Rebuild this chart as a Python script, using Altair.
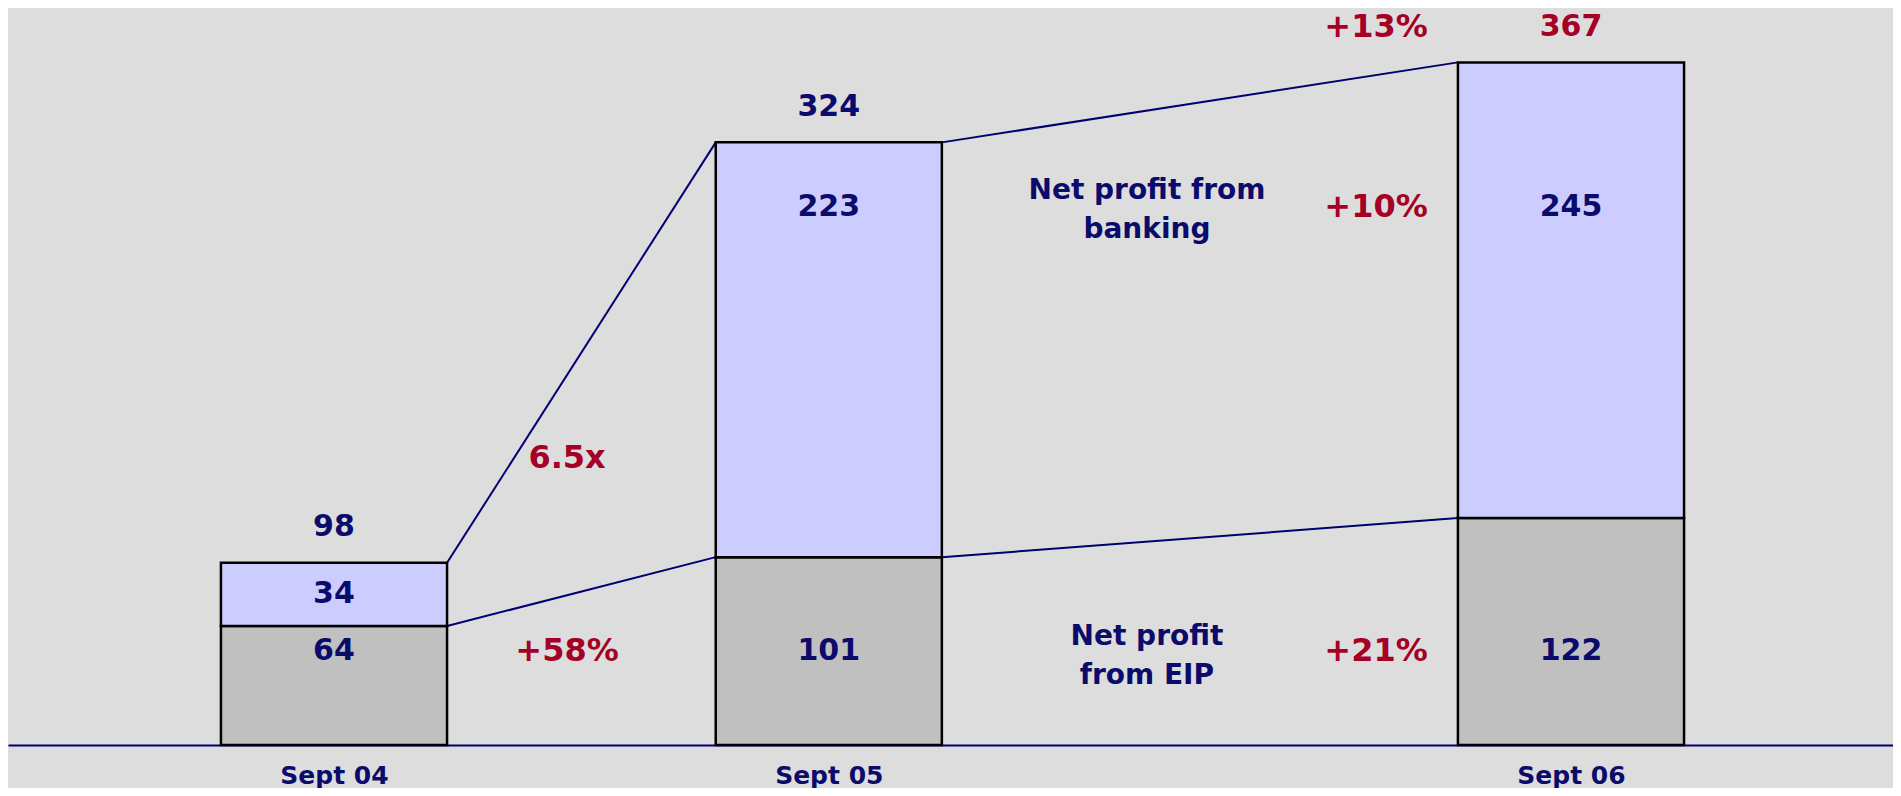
import altair as alt
import pandas as pd

# ---- data ----
periods = ["Sept 04", "Sept 05", "Sept 06"]
slots = [0, 2, 5]                 # horizontal slot of each period
eip = [64, 101, 122]              # Net profit from EIP
banking = [34, 223, 245]          # Net profit from banking
totals = [98, 324, 367]

growth_labels = ["6.5x", "+58%", "+13%", "+10%", "+21%"]
series_labels = ["Net profit from\nbanking", "Net profit\nfrom EIP"]

# ---- layout / style constants ----
NAVY = "#0b0b6b"
LINE = "#000070"
RED = "#a50026"
FONT = "DejaVu Sans"
HALF = 0.457                      # half bar width in slot units
ROW_TOTAL = 386.0
ROW_BANK = 289.2
ROW_EIP = 50.5
COL_GAP1 = 0.942
COL_NAME = 3.286
COL_GAP2 = 4.212

X = alt.Scale(domain=[-1.3177, 6.3016], nice=False, zero=False)
Y = alt.Scale(domain=[0, 396.24], nice=False, zero=False)

label_expr = ""
for s, p in zip(slots, periods):
    label_expr += f"datum.value == {s} ? '{p}' : "
label_expr += "''"

XAXIS = alt.Axis(values=slots, labelExpr=label_expr, grid=False, ticks=False,
                 domainColor=LINE, domainWidth=2, labelFont=FONT,
                 labelFontSize=25, labelFontWeight="bold", labelColor=NAVY,
                 labelPadding=18, title=None)


def xq(field):
    return alt.X(field, type="quantitative", scale=X, axis=XAXIS)


def yq(field):
    return alt.Y(field, type="quantitative", scale=Y, axis=None)


# bars
rows = []
for p, s, e, b in zip(periods, slots, eip, banking):
    rows.append(dict(period=p, slot=s, seg="EIP", start=0, end=e))
    rows.append(dict(period=p, slot=s, seg="Banking", start=e, end=e + b))
bars_df = pd.DataFrame(rows)
bars_df["x0"] = bars_df["slot"] - HALF
bars_df["x1"] = bars_df["slot"] + HALF

bars = alt.Chart(bars_df).mark_bar(stroke="black", strokeWidth=2.5).encode(
    x=xq("x0"),
    x2="x1:Q",
    y=yq("start"),
    y2="end:Q",
    color=alt.Color("seg:N", scale=alt.Scale(domain=["EIP", "Banking"],
                                             range=["#c0c0c0", "#ccccff"]), legend=None),
)

# connecting lines
lrows = []
for i in range(len(periods) - 1):
    for level in (eip, totals):
        lrows.append(dict(xa=slots[i] + HALF, ya=level[i], xb=slots[i + 1] - HALF, yb=level[i + 1]))
lines = alt.Chart(pd.DataFrame(lrows)).mark_rule(color=LINE, strokeWidth=2).encode(
    x=xq("xa"), x2="xb:Q", y=yq("ya"), y2="yb:Q"
)

# totals
tot_df = pd.DataFrame(dict(period=periods, slot=slots, total=totals))
tot_df["c"] = [NAVY] * (len(periods) - 1) + [RED]
tot_text = alt.Chart(tot_df).mark_text(
    dy=-35.5, fontSize=30, fontWeight="bold", font=FONT, baseline="middle"
).encode(
    x=xq("slot"), y=yq("total"), text="total:Q",
    color=alt.Color("c:N", scale=None),
)

# segment value labels
srows = []
for p, s, e, b in zip(periods, slots, eip, banking):
    srows.append(dict(slot=s, v=e, ly=ROW_EIP if ROW_EIP < e else e / 2))
    srows.append(dict(slot=s, v=b, ly=ROW_BANK if ROW_BANK < e + b else e + b / 2))
seg_text = alt.Chart(pd.DataFrame(srows)).mark_text(
    fontSize=30, fontWeight="bold", font=FONT, color=NAVY, baseline="middle"
).encode(x=xq("slot"), y=yq("ly"), text="v:Q")

# growth annotations
g_pos = [(COL_GAP1, 154.3), (COL_GAP1, ROW_EIP), (COL_GAP2, ROW_TOTAL),
         (COL_GAP2, ROW_BANK), (COL_GAP2, ROW_EIP)]
g_df = pd.DataFrame([dict(t=t, gx=x, gy=y) for t, (x, y) in zip(growth_labels, g_pos)])
g_text = alt.Chart(g_df).mark_text(
    fontSize=32, fontWeight="bold", font=FONT, color=RED, baseline="middle"
).encode(x=xq("gx"), y=yq("gy"), text="t:N")

# series names
n_df = pd.DataFrame([dict(t=series_labels[0], nx=COL_NAME, ny=ROW_BANK),
                     dict(t=series_labels[1], nx=COL_NAME, ny=ROW_EIP - 1)])
n_text = alt.Chart(n_df).mark_text(
    fontSize=28, fontWeight="bold", font=FONT, color=NAVY, baseline="middle",
    lineBreak="\n", lineHeight=39, dy=-16
).encode(x=xq("nx"), y=yq("ny"), text="t:N")

chart = alt.layer(lines, bars, tot_text, seg_text, g_text, n_text).properties(
    width=1885, height=737
).configure(background="#dddddd", padding=0).configure_view(stroke=None)

chart.save("out.html", embed_options={"renderer": "svg", "actions": False})
